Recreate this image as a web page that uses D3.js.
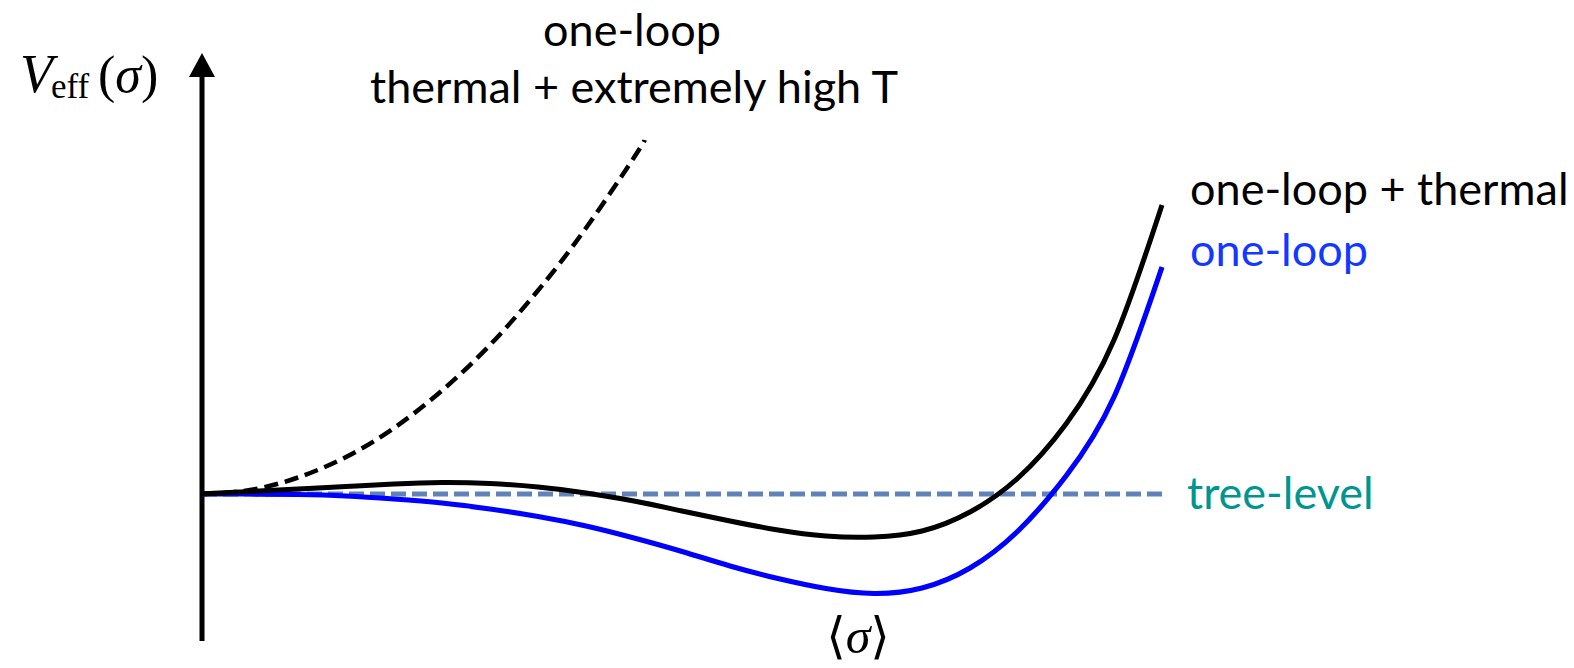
<!DOCTYPE html>
<html>
<head>
<meta charset="utf-8">
<script src="https://cdn.jsdelivr.net/npm/d3@7"></script>
<style>
  html, body { margin: 0; padding: 0; background: #fff; }
  svg { display: block; }
</style>
</head>
<body>
<svg id="chart" width="1574" height="668"></svg>
<script>
// Effective potential V_eff(σ) in arbitrary units.
const sigmaHighT = [0, 0.5, 1.0, 1.5, 2.0, 2.5, 3.0, 3.5, 4.0, 4.5, 4.61];
const vHighT     = [0, 0.08, 0.33, 0.74, 1.32, 2.07, 2.98, 4.07, 5.32, 6.73, 7.08];

const sigmaGrid = [0, 0.5, 1.0, 1.5, 2.0, 2.5, 3.0, 3.5, 4.0, 4.5, 5.0,
                   5.5, 6.0, 6.5, 7.0, 7.5, 8.0, 8.5, 9.0, 9.5, 10.0];
const vThermal  = [0, 0.05, 0.10, 0.15, 0.20, 0.23, 0.21, 0.14, 0.02, -0.14, -0.34,
                   -0.54, -0.72, -0.84, -0.86, -0.74, -0.36, 0.32, 1.40, 3.08, 5.78];
const vOneLoop  = [0, 0, -0.01, -0.04, -0.10, -0.18, -0.30, -0.45, -0.64, -0.88, -1.15,
                   -1.44, -1.69, -1.89, -1.99, -1.88, -1.48, -0.74, 0.36, 1.94, 4.54];

const sigmaTree = [0, 10.02];
const vTree     = [0, 0];

const axisRange = [-2.94, 8.82];   // vertical axis extent (bottom, arrow tip)

const labels = {
  highT: ["one-loop", "thermal + extremely high T"],
  thermal: "one-loop + thermal",
  oneLoop: "one-loop",
  tree: "tree-level"
};

const svg = d3.select("#chart");
const x = d3.scaleLinear().domain([0, 10]).range([202, 1162]);
const y = d3.scaleLinear().domain([-3, 9]).range([644, 44]);

const zip = (xs, ys) => xs.map((s, i) => [s, ys[i]]);
const line = d3.line().x(d => x(d[0])).y(d => y(d[1])).curve(d3.curveNatural);

// vertical axis with arrow head
svg.append("line")
  .attr("x1", x(0)).attr("x2", x(0))
  .attr("y1", y(axisRange[0])).attr("y2", y(axisRange[1]) + 22)
  .attr("stroke", "#000").attr("stroke-width", 5);
const tipX = x(0), tipY = y(axisRange[1]);
svg.append("path")
  .attr("d", `M${tipX},${tipY} L${tipX - 13},${tipY + 24} L${tipX + 13},${tipY + 24} Z`)
  .attr("fill", "#000");

// tree-level (flat) potential
svg.append("path")
  .attr("d", line(zip(sigmaTree, vTree)))
  .attr("fill", "none").attr("stroke", "#5f82b9")
  .attr("stroke-width", 5).attr("stroke-dasharray", "15,6");

// one-loop
svg.append("path")
  .attr("d", line(zip(sigmaGrid, vOneLoop)))
  .attr("fill", "none").attr("stroke", "#0000ff").attr("stroke-width", 5.2);

// one-loop + thermal
svg.append("path")
  .attr("d", line(zip(sigmaGrid, vThermal)))
  .attr("fill", "none").attr("stroke", "#000").attr("stroke-width", 5);

// one-loop thermal at extremely high T
svg.append("path")
  .attr("d", line(zip(sigmaHighT, vHighT)))
  .attr("fill", "none").attr("stroke", "#000")
  .attr("stroke-width", 4.5).attr("stroke-dasharray", "14,7");

// text labels
const sans = "Lato, 'Open Sans', sans-serif";
const label = (txt, px, py, color, anchor) =>
  svg.append("text").attr("x", px).attr("y", py)
    .attr("font-family", sans).attr("font-size", 45)
    .attr("fill", color).attr("text-anchor", anchor || "start").text(txt);

label(labels.highT[0], 632, 46, "#000", "middle");
label(labels.highT[1], 634, 103, "#000", "middle");
label(labels.thermal, 1190, 205, "#000");
label(labels.oneLoop, 1190, 266, "#1438ff");
label(labels.tree, 1187, 509, "#00968f");

// axis titles in math style
const serif = "'Liberation Serif', 'DejaVu Serif', serif";
const vt = svg.append("g").attr("font-family", serif).attr("fill", "#000");
vt.append("text").attr("x", 20).attr("y", 92).attr("font-size", 54)
  .attr("font-style", "italic").text("V");
vt.append("text").attr("x", 51).attr("y", 98).attr("font-size", 35).text("eff");
const paren = vt.append("text").attr("x", 98).attr("y", 92).attr("font-size", 52);
paren.append("tspan").text("(");
paren.append("tspan").attr("font-style", "italic").text("σ");
paren.append("tspan").text(")");

const avg = svg.append("text").attr("x", 858).attr("y", 653)
  .attr("font-family", serif).attr("font-size", 50).attr("text-anchor", "middle");
avg.append("tspan").attr("font-family", "'DejaVu Serif', serif").text("⟨");
avg.append("tspan").attr("font-style", "italic").text("σ");
avg.append("tspan").attr("font-family", "'DejaVu Serif', serif").text("⟩");
</script>
</body>
</html>
